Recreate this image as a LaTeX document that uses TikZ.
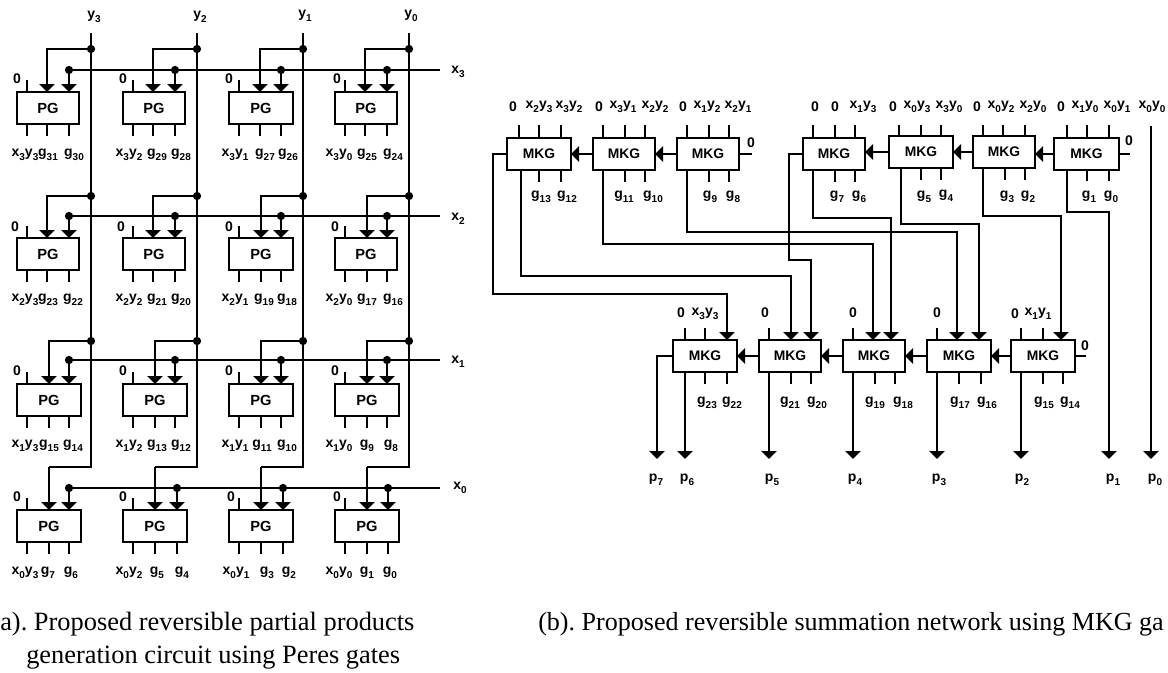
\documentclass[tikz,border=0pt]{standalone}
\usepackage{fontspec}
\setmainfont{Liberation Sans}
\newfontfamily\capfont{Liberation Serif}
\usetikzlibrary{arrows.meta,calc}
\newcommand\subl[1]{\raisebox{-0.3em}{\fontsize{7.5}{7.5}\selectfont #1}}
\newcommand\lxy[2]{x\subl{#1}y\subl{#2}}
\newcommand\gsub[1]{g\subl{#1}}
\tikzset{
  wire/.style={line width=1.25pt,line cap=butt,line join=miter},
  arrowed/.style={wire,-{Triangle[width=11.5pt,length=6pt]}},
  gate/.style={draw,line width=1.25pt,inner sep=0pt,outer sep=0pt,font=\fontsize{10.4}{12}\selectfont\bfseries},
  pggate/.style={gate,font=\fontsize{11}{12}\selectfont\bfseries},
  blob/.style={circle,fill=black,inner sep=0pt,minimum size=6.2pt},
  lab/.style={inner sep=0pt,font=\fontsize{10.5}{12}\selectfont\bfseries},
  axislab/.style={lab},
  caption/.style={inner sep=0pt,anchor=base west,font=\fontsize{19.8}{22}\selectfont\capfont\frenchspacing},
  captionb/.style={caption,font=\fontsize{19.55}{22}\selectfont\capfont\frenchspacing}
}
\newcommand\gatebox[7]{\node[#7,minimum width={(#4-#2)*0.75pt},minimum height={(#5-#3)*0.75pt}] (#1) at ({(#2+#4)/2},{(#3+#5)/2}) {#6};}
\begin{document}
\begin{tikzpicture}[x=0.75pt,y=-0.75pt]
\useasboundingbox (0,0) rectangle (1168,672);
% ---------- PG gates
\foreach \n/\xl/\xr/\yt/\xa/\xb in {
 PGa/17/79/92/47/69, PGb/123/185/92/153/175, PGc/229/293/92/260/281, PGd/335/397/92/365/387,
 PGe/17/79/238/47/69, PGf/123/185/238/153/175, PGg/229/293/238/261/281, PGh/335/397/238/367/387,
 PGi/17/81/384/49/69, PGj/123/187/384/155/175, PGk/229/293/384/261/281, PGl/335/399/384/367/387,
 PGm/17/81/510/49/69, PGn/123/187/510/155/177, PGo/229/293/510/261/283, PGp/335/399/510/367/388}{
  \pgfmathtruncatemacro\yb{\yt+32}
  \gatebox{\n}{\xl}{\yt}{\xr}{\yb}{PG}{pggate}
  \pgfmathtruncatemacro\xz{\xl+10}
  \coordinate (\n zero) at (\xz,\yt-12);
  \draw[wire] (\n zero) -- (\n zero |- \n.north);
  \foreach \q/\xx in {u/\xz,v/\xa,w/\xb}{
    \coordinate (\n\q) at (\xx,\yb+12);
    \draw[wire] (\n\q) -- (\n\q |- \n.south);
  }
  \coordinate (\n A) at (\xa,\yt);
  \coordinate (\n B) at (\xb,\yt);
}
% x lines
\foreach \k/\yy/\xe/\lbx/\lby/\lbl in {3/70/440/458/72/{x\subl{3}},2/216/440/458/219/{x\subl{2}},1/360/440/458/362/{x\subl{1}},0/488/440/460/488/{x\subl{0}}}{
  \coordinate (xs\k) at (68,\yy);
  \coordinate (xe\k) at (\xe,\yy);
  \draw[wire] (xs\k) -- (xe\k);
  \node[axislab] (xlab\k) at (\lbx,\lby) {\lbl};
}
% x branches
\foreach \k/\ga/\gb/\gc/\gd in {3/PGa/PGb/PGc/PGd,2/PGe/PGf/PGg/PGh,1/PGi/PGj/PGk/PGl,0/PGm/PGn/PGo/PGp}{
  \foreach \g in {\ga,\gb,\gc,\gd}{
    \node[blob] (\g X) at (\g B |- xs\k) {};
    \draw[arrowed] (\g X) -- (\g B);
  }
}
% y lines
\foreach \k/\xx/\lbx/\lby/\lbl/\ga/\gb/\gc/\gd in {
 3/91/94/17/{y\subl{3}}/PGa/PGe/PGi/PGm,
 2/197/200/17/{y\subl{2}}/PGb/PGf/PGj/PGn,
 1/303/305/16/{y\subl{1}}/PGc/PGg/PGk/PGo,
 0/409/411/16/{y\subl{0}}/PGd/PGh/PGl/PGp}{
  \coordinate (ys\k) at (\xx,33);
  \coordinate (yj\k) at (\xx,467);
  \node[axislab] (ylab\k) at (\lbx,\lby) {\lbl};
  \draw[wire] (ys\k) -- (yj\k) -- (yj\k -| \gd A);
  \draw[arrowed] (yj\k -| \gd A) -- (\gd A);
  \foreach \g/\jy in {\ga/49,\gb/196,\gc/341}{
    \node[blob] (\g Y) at (\xx,\jy) {};
    \draw[arrowed] (\g Y) -| (\g A);
  }
}
% PG labels
\foreach \t/\xx/\yy [count=\i] in {
 {\lxy33}/25/155,{\gsub{31}}/48/155,{\gsub{30}}/74/155,{\lxy32}/129/155,{\gsub{29}}/157/155,{\gsub{28}}/181/155,{\lxy31}/235/155,{\gsub{27}}/265/155,{\gsub{26}}/288/155,{\lxy30}/339/155,{\gsub{25}}/367/155,{\gsub{24}}/393/155,
 {\lxy23}/25/300,{\gsub{23}}/48/300,{\gsub{22}}/73/300,{\lxy22}/129/300,{\gsub{21}}/157/300,{\gsub{20}}/181/300,{\lxy21}/235/300,{\gsub{19}}/264/300,{\gsub{18}}/287/300,{\lxy20}/339/300,{\gsub{17}}/367/300,{\gsub{16}}/393/300,
 {\lxy13}/25/446,{\gsub{15}}/49/446,{\gsub{14}}/73/446,{\lxy12}/129/446,{\gsub{13}}/157/446,{\gsub{12}}/181/446,{\lxy11}/235/446,{\gsub{11}}/262/446,{\gsub{10}}/287/446,{\lxy10}/339/446,{\gsub{9}}/367/446,{\gsub{8}}/391/446,
 {\lxy03}/25/573,{\gsub{7}}/48/573,{\gsub{6}}/71/573,{\lxy02}/129/573,{\gsub{5}}/157/573,{\gsub{4}}/182/573,{\lxy01}/236/573,{\gsub{3}}/267/573,{\gsub{2}}/289/573,{\lxy00}/339/573,{\gsub{1}}/367/573,{\gsub{0}}/390/573,
 0/17/79,0/123/79,0/229/79,0/337/79,0/15/227,0/121/227,0/229/227,0/335/227,0/17/371,0/123/371,0/229/371,0/335/371,0/17/497,0/123/497,0/231/497,0/337/497}{
  \node[lab] (pglab\i) at (\xx,\yy) {\t};
}
% ---------- MKG gates
\foreach \n/\xl/\yt/\xr/\yb in {A/507/138/571/170,B/593/138/655/170,C/677/138/739/170,D/803/138/865/170,E/889/136/953/168,F/973/136/1035/168,G/1054/138/1119/170,
 La/673/340/737/372,Lb/759/340/821/372,Lc/843/340/905/372,Ld/927/340/991/372,Le/1011/340/1075/372}{
  \gatebox{\n}{\xl}{\yt}{\xr}{\yb}{MKG}{gate}
}
% stubs above / below
\foreach \g/\xx/\yy in {A/519/125,A/539/125,A/561/125,B/603/125,B/625/125,B/645/125,C/687/125,C/709/125,C/729/125,D/813/125,D/835/125,D/855/125,E/899/125,E/921/125,E/941/125,F/983/125,F/1003/125,F/1025/125,G/1067/125,G/1087/125,G/1109/125,La/685/328,La/705/328,Lb/769/328,Lc/853/328,Ld/937/328,Le/1021/328,Le/1043/328}{
  \coordinate (t\g\xx) at (\xx,\yy);
  \draw[wire] (t\g\xx) -- (t\g\xx |- \g.north);
}
\foreach \g/\xx/\yy in {A/539/182,A/561/182,B/625/182,B/645/182,C/709/182,C/729/182,D/835/182,D/855/182,E/921/180,E/941/180,F/1005/180,F/1025/180,G/1087/181,G/1109/181,
 La/705/384,La/727/384,Lb/791/384,Lb/811/384,Lc/875/384,Lc/895/384,Ld/959/384,Ld/981/384,Le/1043/384,Le/1063/384}{
  \coordinate (b\g\xx) at (\xx,\yy);
  \draw[wire] (b\g\xx) -- (b\g\xx |- \g.south);
}
% carry arrows
\foreach \src/\dst in {B/A,C/B,E/D,F/E,G/F,Lb/La,Lc/Lb,Ld/Lc,Le/Ld}{
  \draw[arrowed] (\src.west) -- (\dst.east |- \src.west);
}
% free zero inputs at right
\coordinate (cz) at (752,154); \draw[wire] (C.east) -- (cz);
\coordinate (gz) at (1130,154); \draw[wire] (G.east) -- (gz);
\coordinate (lz) at (1086,356); \draw[wire] (Le.east) -- (lz);
% long routes
\coordinate (tipa) at (727,340); \coordinate (tipb) at (791,340); \coordinate (tipc) at (811,340);
\coordinate (tipd) at (873,340); \coordinate (tipe) at (891,340); \coordinate (tipf) at (957,340);
\coordinate (tipg) at (979,340); \coordinate (tiph) at (1061,340);
\coordinate (ra) at (493,154); \coordinate (rb) at (493,294);
\draw[arrowed] (A.west) -- (ra) -- (rb) -| (tipa);
\coordinate (sa) at (521,170); \coordinate (sb) at (521,276);
\draw[arrowed] (sa) -- (sb) -| (tipb);
\coordinate (ua) at (603,170); \coordinate (ub) at (603,244);
\draw[arrowed] (ua) -- (ub) -| (tipd);
\coordinate (va) at (687,170); \coordinate (vb) at (687,232);
\draw[arrowed] (va) -- (vb) -| (tipf);
\coordinate (wa) at (813,170); \coordinate (wb) at (813,218);
\draw[arrowed] (wa) -- (wb) -| (tipe);
\coordinate (da) at (789,154); \coordinate (db) at (789,260);
\draw[arrowed] (D.west) -- (da) -- (db) -| (tipc);
\coordinate (ea) at (901,168); \coordinate (eb) at (901,224);
\draw[arrowed] (ea) -- (eb) -| (tipg);
\coordinate (fa) at (983,168); \coordinate (fb) at (983,216);
\draw[arrowed] (fa) -- (fb) -| (tiph);
% outputs
\coordinate (pSeven) at (657,459); \coordinate (lw) at (657,356);
\draw[arrowed] (La.west) -- (lw) -- (pSeven);
\foreach \g/\xx/\q in {La/685/six,Lb/769/five,Lc/853/four,Ld/937/three,Le/1021/two}{
  \coordinate (p\q) at (\xx,459);
  \draw[arrowed] (p\q |- \g.south) -- (p\q);
}
\coordinate (ga) at (1067,170); \coordinate (gb) at (1067,212); \coordinate (pone) at (1109,459);
\draw[arrowed] (ga) -- (gb) -| (pone);
\coordinate (zs) at (1151,126); \coordinate (pzero) at (1151,459);
\draw[arrowed] (zs) -- (pzero);
% MKG labels
\foreach \t/\xx/\yy [count=\i] in {
 0/513/107,{\lxy23}/539/107,{\lxy32}/569/107,0/599/107,{\lxy31}/623/107,{\lxy22}/655/107,0/683/107,{\lxy12}/707/107,{\lxy21}/738/107,
 0/815/107,0/835/107,{\lxy13}/863/107,0/893/107,{\lxy03}/917/107,{\lxy30}/949/107,0/977/107,{\lxy02}/1001/107,{\lxy20}/1033/107,0/1061/107,{\lxy10}/1085/107,{\lxy01}/1117/107,{\lxy00}/1152/107,
 0/751/143,0/1129/141,0/1085/346,
 {\gsub{13}}/541/197,{\gsub{12}}/567/197,{\gsub{11}}/624/197,{\gsub{10}}/653/197,{\gsub{9}}/710/197,{\gsub{8}}/733/197,{\gsub{7}}/837/197,{\gsub{6}}/859/197,{\gsub{5}}/924/197,{\gsub{4}}/946/196,{\gsub{3}}/1007/197,{\gsub{2}}/1028/197,{\gsub{1}}/1089/197,{\gsub{0}}/1111/197,
 0/681/313,{\lxy33}/705/314,0/765/313,0/853/313,0/937/313,0/1015/314,{\lxy11}/1038/314,
 {\gsub{23}}/707/403,{\gsub{22}}/732/403,{\gsub{21}}/790/403,{\gsub{20}}/817/403,{\gsub{19}}/875/403,{\gsub{18}}/903/403,{\gsub{17}}/960/403,{\gsub{16}}/987/403,{\gsub{15}}/1044/403,{\gsub{14}}/1070/403,
 {p\subl{7}}/656/480,{p\subl{6}}/687/480,{p\subl{5}}/772/480,{p\subl{4}}/855/480,{p\subl{3}}/939/480,{p\subl{2}}/1022/480,{p\subl{1}}/1113/480,{p\subl{0}}/1155/480}{
  \node[lab] (mlab\i) at (\xx,\yy) {\t};
}
% captions
\node[caption] (capa) at (0,630) {a). Proposed reversible partial products};
\node[caption] (capb) at (26,663) {generation circuit using Peres gates};
\node[captionb] (capc) at (538,630) {(b). Proposed reversible summation network using MKG ga};
\end{tikzpicture}
\end{document}
